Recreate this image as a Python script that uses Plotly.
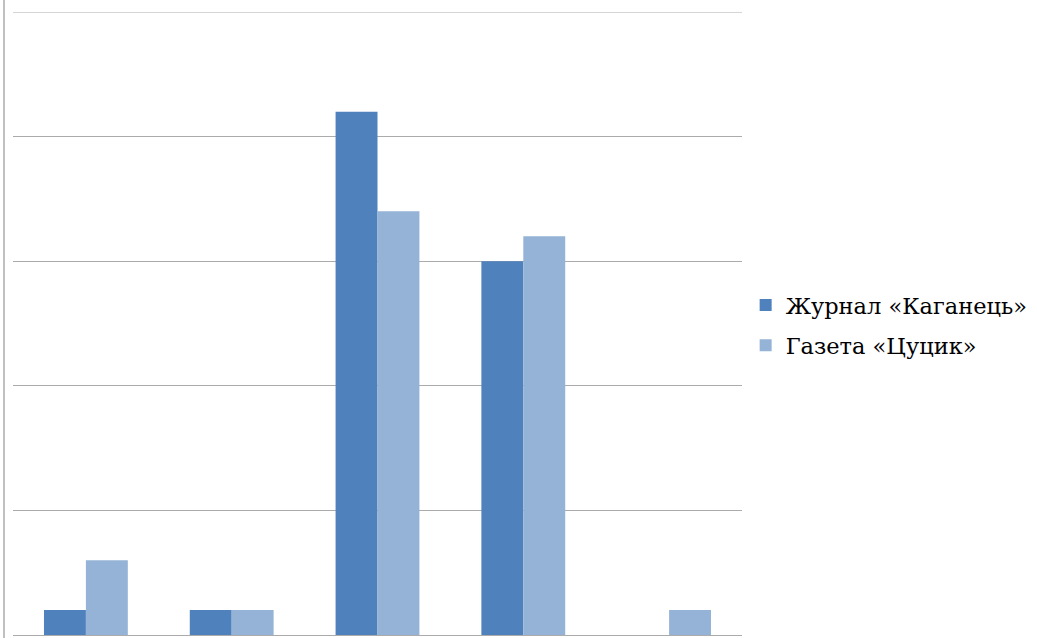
import plotly.graph_objects as go

categories = ["1", "2", "3", "4", "5"]
series_names = ["Журнал «Каганець»", "Газета «Цуцик»"]
kaganets = [1, 1, 21, 15, 0]
tsutsyk = [3, 1, 17, 16, 1]
colors = ["#4F81BD", "#95B3D7"]
y_max = 25

W, H = 1037, 638
L, R, T, B = 13, 295, 12, 3

fig = go.Figure()
for i, (name, vals, c) in enumerate(zip(series_names, [kaganets, tsutsyk], colors)):
    fig.add_trace(go.Bar(x=categories, y=vals, name=name, marker_color=c,
                         marker_line_width=0, legendgroup=f"g{i}"))

fig.update_layout(
    width=W, height=H,
    margin=dict(l=L, r=R, t=T, b=B, pad=0, autoexpand=False),
    plot_bgcolor="white", paper_bgcolor="white",
    barmode="group", bargap=0.425, bargroupgap=0,
    showlegend=True,
    legend=dict(x=1.005, y=0.497, xanchor="left", yanchor="middle",
                font=dict(family="DejaVu Serif", size=22.5, color="black"),
                tracegroupgap=8, itemsizing="constant"),
)
fig.update_xaxes(showticklabels=False, showgrid=False, zeroline=False,
                 showline=False, ticks="")
fig.update_yaxes(range=[0, y_max], dtick=5,
                 showticklabels=False, showgrid=True,
                 gridcolor="#ABABAB", gridwidth=1, zeroline=True,
                 zerolinecolor="#ABABAB", zerolinewidth=1, ticks="",
                 showline=False)
fig.add_shape(type="line", xref="paper", yref="y", x0=0, x1=1,
              y0=y_max, y1=y_max, line=dict(color="#ABABAB", width=1))
fig.add_shape(type="line", xref="paper", yref="paper",
              x0=-9/729, x1=-9/729, y0=-0.006, y1=1.03,
              line=dict(color="#ABABAB", width=1.5))
fig.write_html("out.html")
